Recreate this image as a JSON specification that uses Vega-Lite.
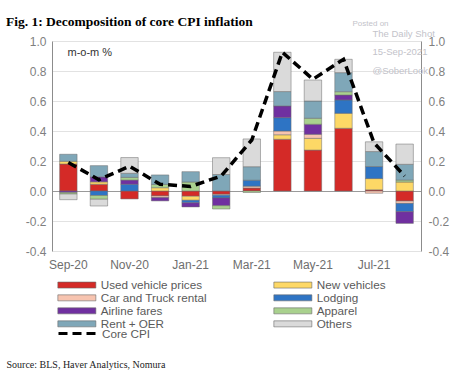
{
  "$schema": "https://vega.github.io/schema/vega-lite/v6.json",
  "width": 369,
  "height": 210,
  "autosize": {"type": "none"},
  "padding": {"left": 52, "top": 41, "right": 44, "bottom": 133},
  "background": "white",
  "title": {
    "text": "Fig. 1:  Decomposition of core CPI inflation",
    "anchor": "start",
    "frame": "group",
    "font": "Liberation Serif",
    "fontSize": 13.5,
    "fontWeight": "bold",
    "color": "#000000",
    "dx": -46,
    "dy": 16,
    "offset": 7
  },
  "config": {
    "view": {"stroke": null},
    "axis": {"labelFont": "Liberation Sans", "titleFont": "Liberation Sans"},
    "legend": {"rowPadding": -2.5}
  },
  "datasets": {
    "components": [
      {"month": "Sep-20", "series": "Used vehicle prices", "value": 0.18},
      {"month": "Sep-20", "series": "New vehicles", "value": 0.018},
      {"month": "Sep-20", "series": "Airline fares", "value": -0.01},
      {"month": "Sep-20", "series": "Apparel", "value": -0.01},
      {"month": "Sep-20", "series": "Rent + OER", "value": 0.047},
      {"month": "Sep-20", "series": "Others", "value": -0.038},
      {"month": "Oct-20", "series": "Used vehicle prices", "value": 0.045},
      {"month": "Oct-20", "series": "New vehicles", "value": 0.016},
      {"month": "Oct-20", "series": "Lodging", "value": -0.03},
      {"month": "Oct-20", "series": "Airline fares", "value": 0.033},
      {"month": "Oct-20", "series": "Apparel", "value": -0.025},
      {"month": "Oct-20", "series": "Rent + OER", "value": 0.075},
      {"month": "Oct-20", "series": "Others", "value": -0.045},
      {"month": "Nov-20", "series": "Used vehicle prices", "value": -0.053},
      {"month": "Nov-20", "series": "Lodging", "value": 0.045},
      {"month": "Nov-20", "series": "Airline fares", "value": 0.028},
      {"month": "Nov-20", "series": "Apparel", "value": 0.018},
      {"month": "Nov-20", "series": "Rent + OER", "value": 0.027},
      {"month": "Nov-20", "series": "Others", "value": 0.105},
      {"month": "Dec-20", "series": "Used vehicle prices", "value": -0.033},
      {"month": "Dec-20", "series": "New vehicles", "value": 0.022},
      {"month": "Dec-20", "series": "Car and Truck rental", "value": -0.011},
      {"month": "Dec-20", "series": "Airline fares", "value": -0.022},
      {"month": "Dec-20", "series": "Apparel", "value": 0.022},
      {"month": "Dec-20", "series": "Rent + OER", "value": 0.063},
      {"month": "Jan-21", "series": "Used vehicle prices", "value": -0.035},
      {"month": "Jan-21", "series": "New vehicles", "value": -0.027},
      {"month": "Jan-21", "series": "Lodging", "value": -0.017},
      {"month": "Jan-21", "series": "Airline fares", "value": -0.027},
      {"month": "Jan-21", "series": "Apparel", "value": 0.06},
      {"month": "Jan-21", "series": "Rent + OER", "value": 0.069},
      {"month": "Feb-21", "series": "Used vehicle prices", "value": -0.022},
      {"month": "Feb-21", "series": "Car and Truck rental", "value": -0.006},
      {"month": "Feb-21", "series": "Lodging", "value": -0.018},
      {"month": "Feb-21", "series": "Airline fares", "value": -0.052},
      {"month": "Feb-21", "series": "Apparel", "value": -0.022},
      {"month": "Feb-21", "series": "Rent + OER", "value": 0.11},
      {"month": "Feb-21", "series": "Others", "value": 0.112},
      {"month": "Mar-21", "series": "Used vehicle prices", "value": 0.02},
      {"month": "Mar-21", "series": "Car and Truck rental", "value": 0.012},
      {"month": "Mar-21", "series": "Lodging", "value": 0.04},
      {"month": "Mar-21", "series": "Apparel", "value": -0.01},
      {"month": "Mar-21", "series": "Rent + OER", "value": 0.09},
      {"month": "Mar-21", "series": "Others", "value": 0.185},
      {"month": "Apr-21", "series": "Used vehicle prices", "value": 0.345},
      {"month": "Apr-21", "series": "New vehicles", "value": 0.03},
      {"month": "Apr-21", "series": "Car and Truck rental", "value": 0.025},
      {"month": "Apr-21", "series": "Lodging", "value": 0.089},
      {"month": "Apr-21", "series": "Airline fares", "value": 0.078},
      {"month": "Apr-21", "series": "Rent + OER", "value": 0.096},
      {"month": "Apr-21", "series": "Others", "value": 0.262},
      {"month": "May-21", "series": "Used vehicle prices", "value": 0.273},
      {"month": "May-21", "series": "New vehicles", "value": 0.078},
      {"month": "May-21", "series": "Car and Truck rental", "value": 0.027},
      {"month": "May-21", "series": "Airline fares", "value": 0.067},
      {"month": "May-21", "series": "Apparel", "value": 0.04},
      {"month": "May-21", "series": "Rent + OER", "value": 0.115},
      {"month": "May-21", "series": "Others", "value": 0.14},
      {"month": "Jun-21", "series": "Used vehicle prices", "value": 0.418},
      {"month": "Jun-21", "series": "New vehicles", "value": 0.1},
      {"month": "Jun-21", "series": "Lodging", "value": 0.089},
      {"month": "Jun-21", "series": "Airline fares", "value": 0.033},
      {"month": "Jun-21", "series": "Apparel", "value": 0.022},
      {"month": "Jun-21", "series": "Rent + OER", "value": 0.127},
      {"month": "Jun-21", "series": "Others", "value": 0.089},
      {"month": "Jul-21", "series": "Used vehicle prices", "value": 0.008},
      {"month": "Jul-21", "series": "New vehicles", "value": 0.075},
      {"month": "Jul-21", "series": "Car and Truck rental", "value": -0.015},
      {"month": "Jul-21", "series": "Lodging", "value": 0.08},
      {"month": "Jul-21", "series": "Rent + OER", "value": 0.1},
      {"month": "Jul-21", "series": "Others", "value": 0.065},
      {"month": "Aug-21", "series": "Used vehicle prices", "value": -0.067},
      {"month": "Aug-21", "series": "New vehicles", "value": 0.06},
      {"month": "Aug-21", "series": "Car and Truck rental", "value": -0.016},
      {"month": "Aug-21", "series": "Lodging", "value": -0.055},
      {"month": "Aug-21", "series": "Airline fares", "value": -0.078},
      {"month": "Aug-21", "series": "Apparel", "value": 0.013},
      {"month": "Aug-21", "series": "Rent + OER", "value": 0.105},
      {"month": "Aug-21", "series": "Others", "value": 0.135}
    ],
    "core": [
      {"month": "Sep-20", "series": "Core CPI", "value": 0.19},
      {"month": "Oct-20", "series": "Core CPI", "value": 0.075},
      {"month": "Nov-20", "series": "Core CPI", "value": 0.165},
      {"month": "Dec-20", "series": "Core CPI", "value": 0.045},
      {"month": "Jan-21", "series": "Core CPI", "value": 0.03},
      {"month": "Feb-21", "series": "Core CPI", "value": 0.1},
      {"month": "Mar-21", "series": "Core CPI", "value": 0.34},
      {"month": "Apr-21", "series": "Core CPI", "value": 0.925},
      {"month": "May-21", "series": "Core CPI", "value": 0.745},
      {"month": "Jun-21", "series": "Core CPI", "value": 0.878},
      {"month": "Jul-21", "series": "Core CPI", "value": 0.32},
      {"month": "Aug-21", "series": "Core CPI", "value": 0.1}
    ]
  },
  "layer": [
    {
      "data": {"name": "components"},
      "transform": [
        {"calculate": "indexof(['Used vehicle prices','New vehicles','Car and Truck rental','Lodging','Airline fares','Apparel','Rent + OER','Others'], datum.series)", "as": "stack_rank"}
      ],
      "mark": {"type": "bar", "stroke": "#6b6b6b", "strokeWidth": 0.5},
      "encoding": {
        "x": {
          "field": "month",
          "type": "ordinal",
          "sort": ["Sep-20","Oct-20","Nov-20","Dec-20","Jan-21","Feb-21","Mar-21","Apr-21","May-21","Jun-21","Jul-21","Aug-21"],
          "scale": {"paddingInner": 0.43, "paddingOuter": 0.25},
          "axis": {
            "values": ["Sep-20","Nov-20","Jan-21","Mar-21","May-21","Jul-21"],
            "labelAngle": 0,
            "labelFontSize": 12,
            "labelColor": "#6e6e6e",
            "labelPadding": 8,
            "domain": false,
            "ticks": false,
            "title": "Source: BLS, Haver Analytics, Nomura",
            "titleFont": "Liberation Serif",
            "titleFontSize": 10,
            "titleFontWeight": "normal",
            "titleColor": "#222222",
            "titleX": -46,
            "titleY": 116,
            "titleAlign": "left",
            "titleBaseline": "alphabetic",
            "titleAngle": 0
          }
        },
        "y": {
          "field": "value",
          "type": "quantitative",
          "stack": "zero",
          "scale": {"domain": [-0.4, 1.0], "nice": false},
          "axis": {
            "orient": "left",
            "values": [-0.4, -0.2, 0, 0.2, 0.4, 0.6, 0.8, 1.0],
            "labelExpr": "replace(format(datum.value, '.1f'), '\u2212', '-')",
            "labelFontSize": 12,
            "labelColor": "#7f7f7f",
            "labelPadding": 6,
            "ticks": false,
            "domainColor": "#8c8c8c",
            "grid": true,
            "gridColor": {"condition": {"test": "datum.value === 0", "value": "#9a9a9a"}, "value": "#e2e2e2"},
            "title": "m-o-m %",
            "titleAngle": 0,
            "titleX": 15,
            "titleY": 14,
            "titleAlign": "left",
            "titleBaseline": "alphabetic",
            "titleFontSize": 11,
            "titleFontWeight": "normal",
            "titleColor": "#333333"
          }
        },
        "order": {"field": "stack_rank", "type": "quantitative"},
        "color": {
          "field": "series",
          "type": "nominal",
          "sort": ["Used vehicle prices","Car and Truck rental","Airline fares","Rent + OER","New vehicles","Lodging","Apparel","Others"],
          "scale": {
            "domain": ["Used vehicle prices","Car and Truck rental","Airline fares","Rent + OER","New vehicles","Lodging","Apparel","Others"],
            "range": ["#d42a27","#f7c4b0","#7030a0","#7fa7b8","#fdd866","#2e74c4","#a9d18e","#dadada"]
          },
          "legend": {
            "orient": "none",
            "legendX": 19,
            "legendY": 238,
            "columns": 2,
            "columnPadding": 65,
            "rowPadding": -2.5,
            "padding": 0,
            "title": null,
            "symbolType": "M-3.8,-0.6H3.8V0.6H-3.8Z",
            "symbolSize": 100,
            "symbolStrokeColor": "#666666",
            "symbolStrokeWidth": 0.6,
            "labelFont": "Liberation Sans",
            "labelFontSize": 11.7,
            "labelColor": "#5a5a5a",
            "labelOffset": 18
          }
        }
      }
    },
    {
      "data": {"name": "core"},
      "mark": {"type": "line", "color": "#000000", "strokeWidth": 3.5},
      "encoding": {
        "x": {
          "field": "month",
          "type": "ordinal",
          "sort": ["Sep-20","Oct-20","Nov-20","Dec-20","Jan-21","Feb-21","Mar-21","Apr-21","May-21","Jun-21","Jul-21","Aug-21"],
          "axis": {
            "orient": "top",
            "labels": false,
            "domain": false,
            "ticks": false,
            "grid": false,
            "title": "Posted on",
            "titleFont": "Liberation Sans",
            "titleFontSize": 8,
            "titleFontWeight": "normal",
            "titleColor": "#c3c3ca",
            "titleX": 300,
            "titleY": -16,
            "titleAlign": "left",
            "titleBaseline": "alphabetic",
            "titleAngle": 0
          }
        },
        "y": {
          "field": "value",
          "type": "quantitative",
          "axis": {
            "orient": "right",
            "values": [-0.4, -0.2, 0, 0.2, 0.4, 0.6, 0.8, 1.0],
            "labelExpr": "replace(format(datum.value, '.1f'), '\u2212', '-')",
            "labelFontSize": 12,
            "labelColor": "#7f7f7f",
            "labelPadding": 7,
            "ticks": false,
            "domainColor": "#8c8c8c",
            "grid": false,
            "title": ["The Daily Shot", "15-Sep-2021", "@SoberLook"],
            "titleFont": "Liberation Sans",
            "titleFontSize": 9.5,
            "titleFontWeight": "normal",
            "titleColor": "#c3c3ca",
            "titleLineHeight": 18.5,
            "titleX": -49,
            "titleY": -5,
            "titleAlign": "left",
            "titleBaseline": "alphabetic",
            "titleAngle": 0
          }
        },
        "strokeDash": {
          "field": "series",
          "type": "nominal",
          "scale": {"domain": ["Core CPI"], "range": [[9, 5]]},
          "legend": {
            "orient": "none",
            "legendX": 19,
            "legendY": 286,
            "padding": 0,
            "title": null,
            "symbolType": "M-3.8,0H3.8",
            "symbolSize": 100,
            "symbolStrokeColor": "#000000",
            "symbolStrokeWidth": 3,
            "labelFont": "Liberation Sans",
            "labelFontSize": 11.7,
            "labelColor": "#5a5a5a",
            "labelOffset": 18
          }
        }
      }
    }
  ],
  "resolve": {"axis": {"y": "independent", "x": "independent"}}
}
